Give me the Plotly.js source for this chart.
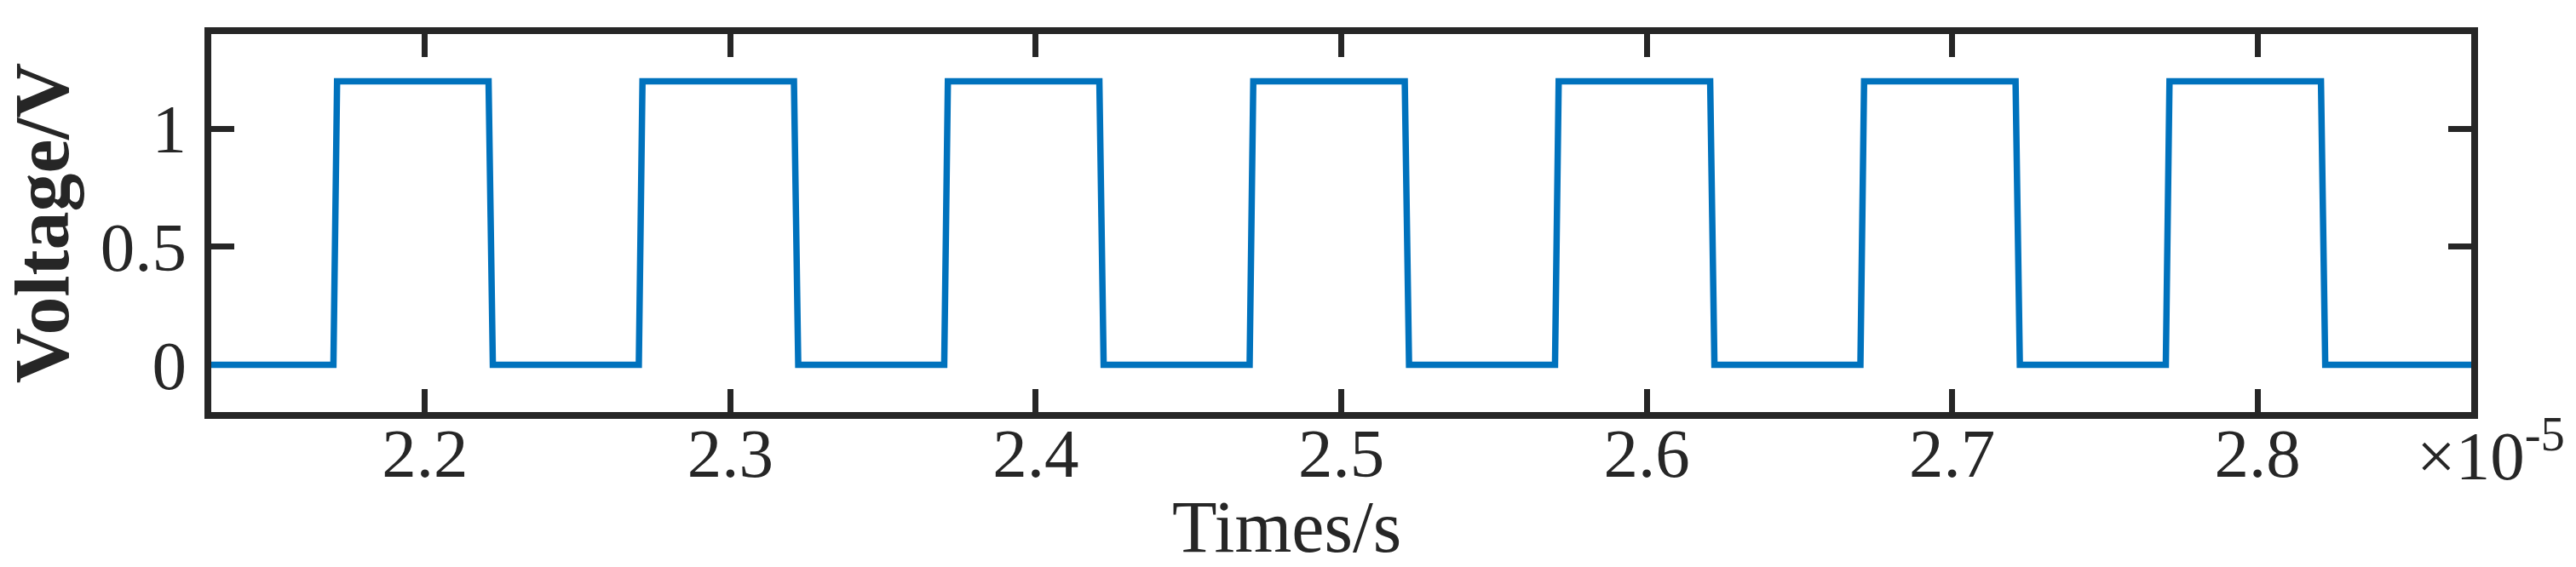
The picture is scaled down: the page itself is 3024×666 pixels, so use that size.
<!DOCTYPE html>
<html>
<head>
<meta charset="utf-8">
<script src="https://cdn.plot.ly/plotly-3.0.1.min.js"></script>
<style>
  html, body { margin: 0; padding: 0; background: #ffffff; }
  #chart { width: 3024px; height: 666px; }
</style>
</head>
<body>
<div id="chart"></div>
<script>
// time in units of 1e-5 s, voltage in V (square wave)
const timeE5 = [
    2.1300,
    2.1700, 2.1712, 2.2208, 2.2222,
    2.2700, 2.2712, 2.3208, 2.3222,
    2.3700, 2.3712, 2.4208, 2.4222,
    2.4700, 2.4712, 2.5208, 2.5222,
    2.5700, 2.5712, 2.6208, 2.6222,
    2.6700, 2.6712, 2.7208, 2.7222,
    2.7700, 2.7712, 2.8208, 2.8222,
    2.8700
];
const voltage = [
    0,
    0, 1.2, 1.2, 0,
    0, 1.2, 1.2, 0,
    0, 1.2, 1.2, 0,
    0, 1.2, 1.2, 0,
    0, 1.2, 1.2, 0,
    0, 1.2, 1.2, 0,
    0, 1.2, 1.2, 0,
    0
];
const xTicks = [2.2, 2.3, 2.4, 2.5, 2.6, 2.7, 2.8];
const yTicks = [0, 0.5, 1];
const yTickText = ['0', '0.5', '1'];

const axisColor = '#262626';
const serif = 'Liberation Serif, Times New Roman, serif';

const trace = {
    x: timeE5,
    y: voltage,
    type: 'scatter',
    mode: 'lines',
    line: { color: '#0072BD', width: 7.5 },
    hoverinfo: 'skip'
};

// box axes, inside ticks on all four sides, drawn under the curve
const commonAxis = {
    showline: true,
    linecolor: axisColor,
    linewidth: 7.5,
    mirror: 'ticks',
    ticks: 'inside',
    ticklen: 27,
    tickwidth: 7,
    tickcolor: axisColor,
    showgrid: false,
    zeroline: false,
    layer: 'below traces',
    tickfont: { family: serif, size: 81, color: axisColor }
};

const layout = {
    width: 3024,
    height: 666,
    paper_bgcolor: '#ffffff',
    plot_bgcolor: '#ffffff',
    showlegend: false,
    margin: { l: 248, r: 123, t: 40, b: 182 },
    xaxis: {
        ...commonAxis,
        range: [2.13, 2.87],
        tickvals: xTicks,
        tickformat: '.1f',
        ticklabelstandoff: -29
    },
    yaxis: {
        ...commonAxis,
        range: [-0.2, 1.4],
        tickvals: yTicks,
        ticktext: yTickText,
        ticklabelstandoff: 5,
        title: {
            text: 'Voltage/V',
            font: { family: serif, size: 90, color: axisColor, weight: 'bold' },
            standoff: 24
        }
    },
    annotations: [
        {
            text: 'Times/s',
            xref: 'paper', yref: 'paper',
            x: 0.4757, y: 0,
            xanchor: 'center', yanchor: 'top',
            yshift: -85,
            showarrow: false,
            font: { family: serif, size: 86, color: axisColor }
        },
        {
            text: '×10<sup>-5</sup>',
            xref: 'paper', yref: 'paper',
            x: 0.9751, y: 0,
            xanchor: 'left', yanchor: 'top',
            yshift: 8,
            showarrow: false,
            font: { family: serif, size: 81, color: axisColor }
        }
    ]
};

Plotly.newPlot('chart', [trace], layout, { displayModeBar: false, responsive: false });
</script>
</body>
</html>
